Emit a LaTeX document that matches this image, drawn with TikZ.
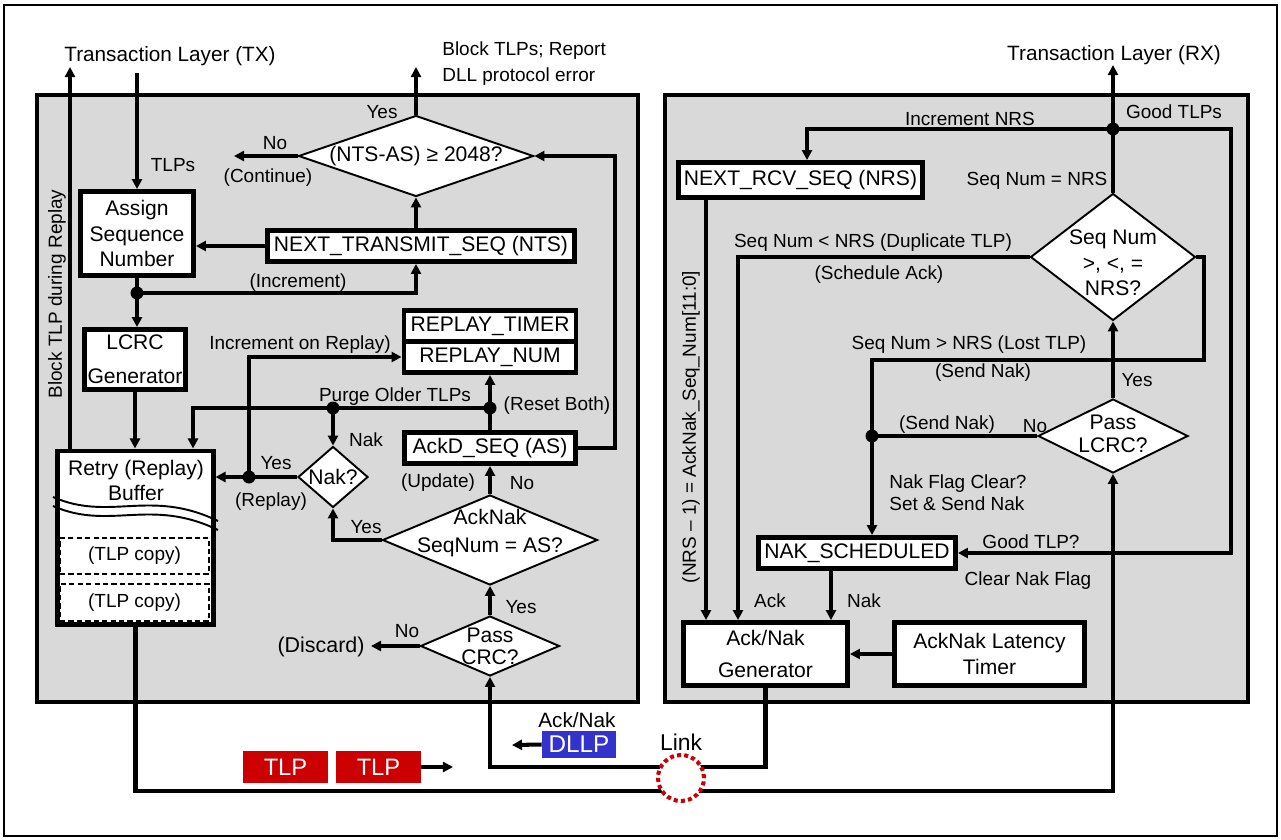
\documentclass[tikz,border=0pt]{standalone}
\usepackage{fontspec}
\setmainfont{Liberation Sans}
\usetikzlibrary{arrows.meta, shapes.geometric}
\definecolor{panelbg}{HTML}{D9D9D9}
\definecolor{tlpred}{HTML}{CC0000}
\definecolor{dllpblue}{HTML}{3333CC}

\begin{document}
\begin{tikzpicture}[
  x=0.02cm, y=-0.02cm, line join=miter,
  panel/.style={draw, fill=panelbg, line width=2.8pt},
  blk/.style={draw, fill=white, line width=2.8pt, inner sep=0pt, align=center,
              font=\fontsize{12}{14.6}\selectfont},
  dia/.style={draw, fill=white, line width=1.1pt, diamond, inner sep=0pt},
  btxt/.style={inner sep=0pt, align=center, font=\fontsize{12}{14.6}\selectfont},
  lbl/.style={inner sep=0pt, align=center, font=\fontsize{10.8}{13}\selectfont},
  hdr/.style={inner sep=0pt, font=\fontsize{11.8}{14}\selectfont},
  wire/.style={line width=2.3pt},
  arr/.style={wire, -{Triangle[length=5.7pt, width=5.7pt]}},
  copybox/.style={draw, fill=white, dash pattern=on 3pt off 1.8pt, line width=1.1pt,
                  inner sep=0pt, font=\fontsize{10.8}{13}\selectfont},
  pkt/.style={inner sep=0pt, text=white, font=\fontsize{13.5}{16}\selectfont},
]

\useasboundingbox (0,0) rectangle (1281,839);
\draw[line width=1.1pt] (4,5) rectangle (1277,836);

% Panels
\draw[panel] (37,95) rectangle (638,702);
\draw[panel] (665,95) rectangle (1248,702);

% Transmitter
\node[blk, minimum width=2.26cm, minimum height=1.68cm] (asn) at (137,233.5) {Assign\\Sequence\\Number};
\node[blk, minimum width=6.14cm, minimum height=0.62cm] (nts) at (421,246) {NEXT\_TRANSMIT\_SEQ (NTS)};
\node[blk, minimum width=2.02cm, minimum height=1.2cm] (lcrc) at (135,359.5) {LCRC\\[4.5pt]Generator};
\node[blk, minimum width=3.44cm, minimum height=0.62cm] (rtim) at (490,326) {REPLAY\_TIMER};
\node[blk, minimum width=3.44cm, minimum height=0.62cm] (rnum) at (490,357) {REPLAY\_NUM};
\node[blk, minimum width=3.42cm, minimum height=0.62cm] (ackd) at (490,448) {AckD\_SEQ (AS)};
\node[blk, minimum width=3.12cm, minimum height=3.48cm, line width=2.3pt] (retry) at (135.5,537.5) {};
\node[btxt] (retryt) at (136,480.5) {Retry (Replay)\\Buffer};
\draw[line width=1.1pt] (53,497) .. controls (110,522) and (150,488) .. (218,521);
\draw[line width=1.1pt] (53,506) .. controls (110,531) and (150,497) .. (218,530);
\node[copybox, minimum width=2.98cm, minimum height=0.72cm] (cp1) at (134.5,556) {(TLP copy)};
\node[copybox, minimum width=2.98cm, minimum height=0.74cm] (cp2) at (134.5,602.5) {(TLP copy)};

\node[dia, minimum width=4.7cm, minimum height=1.62cm] (chk) at (416,156) {};
\node[btxt] (chkt) at (416,156) {(NTS-AS) ≥ 2048?};
\node[dia, minimum width=1.4cm, minimum height=1.22cm] (nakq) at (333,477) {};
\node[btxt] (nakqt) at (333,477) {Nak?};
\node[dia, minimum width=4.3cm, minimum height=1.8cm] (ackq) at (490,540) {};
\node[btxt, font=\fontsize{12}{16}\selectfont] (ackqt) at (490,533) {AckNak\\SeqNum = AS?};
\node[dia, minimum width=2.78cm, minimum height=1.2cm] (crc) at (490,646) {};
\node[btxt, font=\fontsize{12}{12.5}\selectfont] (crct) at (490,646) {Pass\\CRC?};

\coordinate (txin) at (137,73);
\coordinate (txout) at (70,67);
\coordinate (blkout) at (416,67);
\coordinate (cont) at (234,156);
\coordinate (jinc) at (137,293);
\coordinate (asback) at (615,156);
\coordinate (jrst) at (490,408);
\coordinate (jpur) at (333,408);
\coordinate (pur) at (193,408);
\coordinate (jrep) at (249,477);
\coordinate (disc) at (371,646);

\draw[arr] (txin) -- (asn.north);
\draw[arr] (retry.north -| txout) -- (txout);
\draw[arr] (chk.north) -- (blkout);
\draw[arr] (chk.west) -- (cont);
\draw[arr] (nts.west) -- (nts.west -| asn.east);
\draw[arr] (chk |- nts.north) -- (chk.south);
\draw[wire] (asn.south) -- (jinc);
\draw[arr] (jinc) -- (jinc |- lcrc.north);
\draw[arr] (jinc) -| (chk |- nts.south);
\draw[arr] (lcrc.south) -- (lcrc.south |- retry.north);
\draw[arr] (ackd.east) -| (asback) -- (chk.east);
\draw[arr] (ackq.north) -- (ackd.south);
\draw[wire] (ackd.north) -- (jrst);
\draw[arr] (jrst) -- (rnum.south);
\draw[arr] (jrst) -- (pur) -- (pur |- retry.north);
\draw[arr] (jpur) -- (nakq.north);
\draw[arr] (nakq.west) -- (nakq.west -| retry.east);
\draw[arr] (jrep) |- (rnum.west);
\draw[arr] (ackq.west) -| (nakq.south);
\draw[arr] (crc.north) -- (ackq.south);
\draw[arr] (crc.west) -- (disc);

\node[hdr] (txl) at (170,56) {Transaction Layer (TX)};
\node[lbl, rotate=90] (blkrep) at (57,294) {Block TLP during Replay};
\node[lbl] (tlps) at (173,165) {TLPs};
\node[lbl, anchor=west, align=left, font=\fontsize{10.8}{14.7}\selectfont] (blkt) at (442,64) {Block TLPs; Report\\DLL protocol error};
\node[lbl] (yes1) at (382,112) {Yes};
\node[lbl] (no1) at (275,143) {No};
\node[lbl] (conti) at (268,178) {(Continue)};
\node[lbl] (incr) at (298,283) {(Increment)};
\node[lbl] (incrp) at (300,345) {Increment on Replay)};
\node[lbl] (purge) at (395,397) {Purge Older TLPs};
\node[lbl] (reset) at (557,406) {(Reset Both)};
\node[lbl] (nak1) at (366,440) {Nak};
\node[lbl] (yes2) at (276,463) {Yes};
\node[lbl] (repl) at (271,502) {(Replay)};
\node[lbl] (upd) at (438,483) {(Update)};
\node[lbl] (no2) at (522,483) {No};
\node[lbl] (yes3) at (366,527) {Yes};
\node[lbl] (yes4) at (521,607) {Yes};
\node[lbl] (no3) at (407,631) {No};
\node[lbl, font=\fontsize{12.2}{14}\selectfont] (disct) at (321,647) {(Discard)};

% Receiver
\node[blk, minimum width=4.88cm, minimum height=0.70cm] (nrs) at (800.5,180) {NEXT\_RCV\_SEQ (NRS)};
\node[blk, minimum width=3.94cm, minimum height=0.62cm] (naks) at (857,553) {NAK\_SCHEDULED};
\node[blk, minimum width=3.28cm, minimum height=1.26cm] (gen) at (765.5,654) {Ack/Nak\\[3.5pt]Generator};
\node[blk, minimum width=3.8cm, minimum height=1.26cm] (lat) at (989.5,654) {AckNak Latency\\Timer};
\node[dia, minimum width=3.3cm, minimum height=2.54cm] (sq) at (1113,257) {};
\node[btxt] (sqt) at (1113,263) {Seq Num\\>, <, =\\NRS?};
\node[dia, minimum width=3.0cm, minimum height=1.48cm] (lcrcq) at (1113,436) {};
\node[btxt, font=\fontsize{12}{13}\selectfont] (lcrcqt) at (1113,433.5) {Pass\\LCRC?};

\coordinate (rxout) at (1113,65);
\coordinate (jgood) at (1113,129);
\coordinate (gtr) at (1231,129);
\coordinate (railN) at (807,0);
\coordinate (railA) at (706,0);
\coordinate (railB) at (738,0);
\coordinate (railC) at (831,0);
\coordinate (railD) at (872,0);
\coordinate (lost) at (1204,360);
\coordinate (jnak) at (872,436);

\draw[arr] (sq.north) -- (rxout);
\draw[arr] (jgood) -| (railN |- nrs.north);
\draw[arr] (jgood) -- (gtr) |- (naks.east);
\draw[arr] (nrs.south -| railA) -- (gen.north -| railA);
\draw[arr] (sq.west) -| (gen.north -| railB);
\draw[arr] (naks.south -| railC) -- (gen.north -| railC);
\draw[arr] (sq.east) -| (lost) -| (naks.north -| railD);
\draw[wire] (lcrcq.west) -- (jnak);
\draw[arr] (lcrcq.north) -- (sq.south);
\draw[arr] (lat.west) -- (lat.west -| gen.east);

\node[hdr] (rxl) at (1114,55) {Transaction Layer (RX)};
\node[lbl] (incn) at (970,119) {Increment NRS};
\node[lbl] (goods) at (1174,112) {Good TLPs};
\node[lbl] (eqn) at (1037,181) {Seq Num = NRS};
\node[lbl] (dup) at (873,243) {Seq Num < NRS (Duplicate TLP)};
\node[lbl] (schd) at (879,275) {(Schedule Ack)};
\node[lbl] (lostt) at (969,345) {Seq Num > NRS (Lost TLP)};
\node[lbl] (sn1) at (983,373) {(Send Nak)};
\node[lbl] (yes5) at (1137,380) {Yes};
\node[lbl] (sn2) at (947,425) {(Send Nak)};
\node[lbl] (no4) at (1035,426) {No};
\node[lbl, anchor=west, align=left, font=\fontsize{10.8}{12.5}\selectfont] (flag) at (889,493) {Nak Flag Clear?\\Set \& Send Nak};
\node[lbl] (goodt) at (1031,542) {Good TLP?};
\node[lbl] (clrf) at (1028,581) {Clear Nak Flag};
\node[lbl] (ackl) at (770,601) {Ack};
\node[lbl] (nakl) at (864,601) {Nak};
\node[lbl, rotate=90] (ackseq) at (691,427) {(NRS – 1) = AckNak\_Seq\_Num[11:0]};

% Link
\node[pkt, fill=tlpred, minimum width=1.7cm, minimum height=0.64cm] (tlp1) at (285.5,767) {TLP};
\node[pkt, fill=tlpred, minimum width=1.7cm, minimum height=0.64cm] (tlp2) at (378.5,767) {TLP};
\node[pkt, fill=dllpblue, minimum width=1.48cm, minimum height=0.54cm, font=\fontsize{13.8}{16}\selectfont] (dllp) at (579,744.5) {DLLP};
\node[hdr] (acknak) at (577,720) {Ack/Nak};
\node[hdr, font=\fontsize{13}{15}\selectfont] (link) at (681,742) {Link};

\coordinate (lkbot) at (1113,791);
\coordinate (lkret) at (490,767);
\coordinate (tlpgo) at (453,767);
\coordinate (dllpgo) at (512,745);

\draw[arr] (retry.south) |- (lkbot) -- (lcrcq.south);
\draw[arr] (gen.south) |- (lkret) -- (crc.south);
\draw[arr] (tlp2.east) -- (tlpgo);
\draw[arr] (dllp.west) -- (dllpgo);

\foreach \j in {jinc,jrst,jpur,jrep,jgood,jnak} {
  \fill (\j) circle (0.13cm);
}
\draw[tlpred, fill=white, line width=2.3pt, dash pattern=on 2.3pt off 1.8pt] (681,778) circle (0.46cm);

\end{tikzpicture}
\end{document}
